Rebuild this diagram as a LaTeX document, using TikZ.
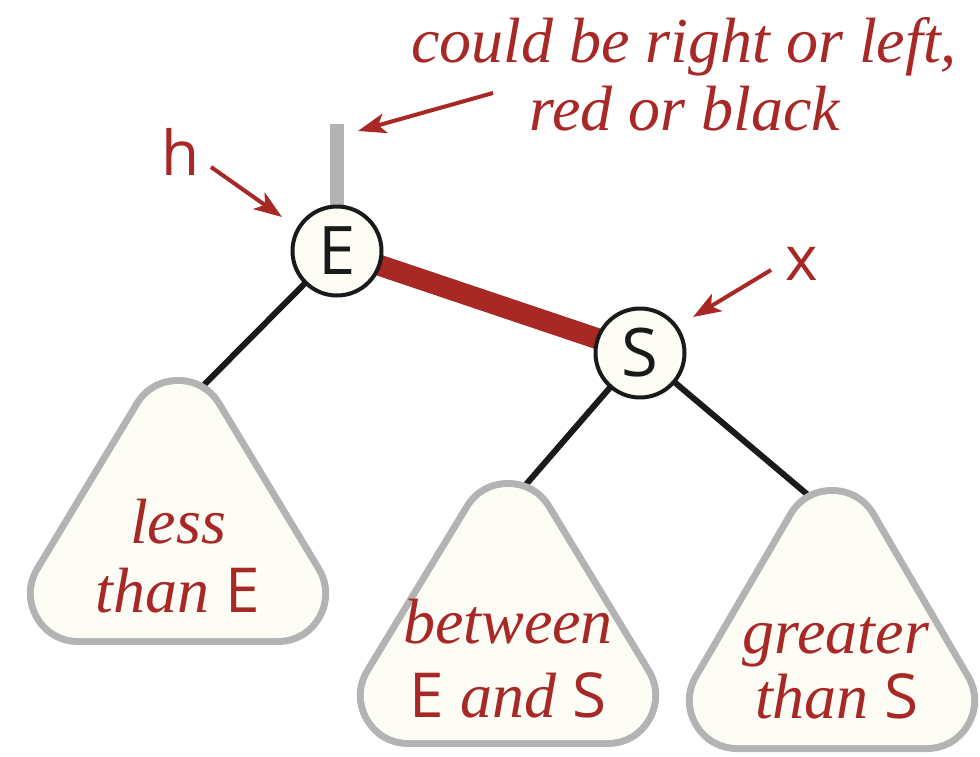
\documentclass[tikz,border=0pt]{standalone}
\usepackage{fontspec}
\setsansfont{Open Sans}
\newfontfamily\noteserif{Liberation Serif}
\usetikzlibrary{arrows.meta}
\definecolor{bookred}{RGB}{168,40,38}
\definecolor{edgegray}{RGB}{179,179,179}
\definecolor{cream}{RGB}{253,253,246}
\definecolor{ink}{RGB}{26,26,26}
\pgfdeclarelayer{background}
\pgfsetlayers{background,main}
\tikzset{
  treenode/.style={circle, draw=ink, line width=4pt, fill=cream, minimum size=89pt, inner sep=0pt,
    font=\fontsize{67}{67}\selectfont\sffamily, text=ink},
  tribg/.style={draw=edgegray, fill=edgegray, line width=103pt, line join=round},
  trifg/.style={draw=cream, fill=cream, line width=89pt, line join=round},
  blackedge/.style={draw=ink, line width=6pt},
  rededge/.style={draw=bookred, line width=21pt},
  stubedge/.style={draw=edgegray, line width=14pt},
  callarrow/.style={draw=bookred, line width=4pt, -{Stealth[length=28pt,width=20pt,inset=7pt]}},
  note/.style={anchor=base, inner sep=0pt, text=bookred, font=\fontsize{64}{64}\selectfont\noteserif\itshape},
  keylabel/.style={anchor=base, inner sep=0pt, text=bookred, font=\fontsize{62}{62}\selectfont\sffamily},
}
\newcommand{\sfE}{\textup{\sffamily\fontsize{62}{62}\selectfont E}}
\newcommand{\sfS}{\textup{\sffamily\fontsize{62}{62}\selectfont S}}
\begin{document}
\begin{tikzpicture}[x=1pt, y=-1pt]
\useasboundingbox (0,0) rectangle (980,756);

% tree nodes
\node[treenode] (E) at (337,251) {E};
\node[treenode] (S) at (640,353) {S};

% subtrees
\draw[tribg] (178,428.5) -- (78.5,593.5) -- (277.5,593.5) -- cycle;
\draw[trifg] (178,428.5) -- (78.5,593.5) -- (277.5,593.5) -- cycle;
\draw[tribg] (508,531.5) -- (408.5,695.5) -- (607.5,695.5) -- cycle;
\draw[trifg] (508,531.5) -- (408.5,695.5) -- (607.5,695.5) -- cycle;
\draw[tribg] (832,538.5) -- (737.5,700.5) -- (926.5,700.5) -- cycle;
\draw[trifg] (832,538.5) -- (737.5,700.5) -- (926.5,700.5) -- cycle;

\coordinate (ltop) at (194,395);
\coordinate (mtop) at (516,496);
\coordinate (rtop) at (821,506);
\coordinate (stubtop) at (337,124);

\begin{pgfonlayer}{background}
  \draw[stubedge] (stubtop) -- (E.center);
  \draw[rededge] (E.center) -- (S.center);
  \draw[blackedge] (E.center) -- (ltop);
  \draw[blackedge] (S.center) -- (mtop);
  \draw[blackedge] (S.center) -- (rtop);
\end{pgfonlayer}

% subtree texts
\node[note] (l1) at (178,543) {less};
\node[note] (l2) at (178,612) {than \sfE};
\node[note] (m1) at (508,643) {between};
\node[note] (m2) at (508,717) {\sfE{} and \sfS};
\node[note] (r1) at (836,653) {greater};
\node[note] (r2) at (837,718) {than \sfS};

% callout
\node[note] (c1) at (684,62) {could be right or left,};
\node[note] (c2) at (685,130) {red or black};
\coordinate (ctail) at (493,93);
\coordinate (ctip) at (358,131);
\draw[callarrow] (ctail) -- (ctip);

% labels
\node[keylabel] (h) at (181,175) {h};
\coordinate (htail) at (211,167);
\coordinate (htip) at (282,217);
\draw[callarrow] (htail) -- (htip);

\node[keylabel] (x) at (802,280) {x};
\coordinate (xtail) at (771,270);
\coordinate (xtip) at (693,317);
\draw[callarrow] (xtail) -- (xtip);
\end{tikzpicture}
\end{document}
